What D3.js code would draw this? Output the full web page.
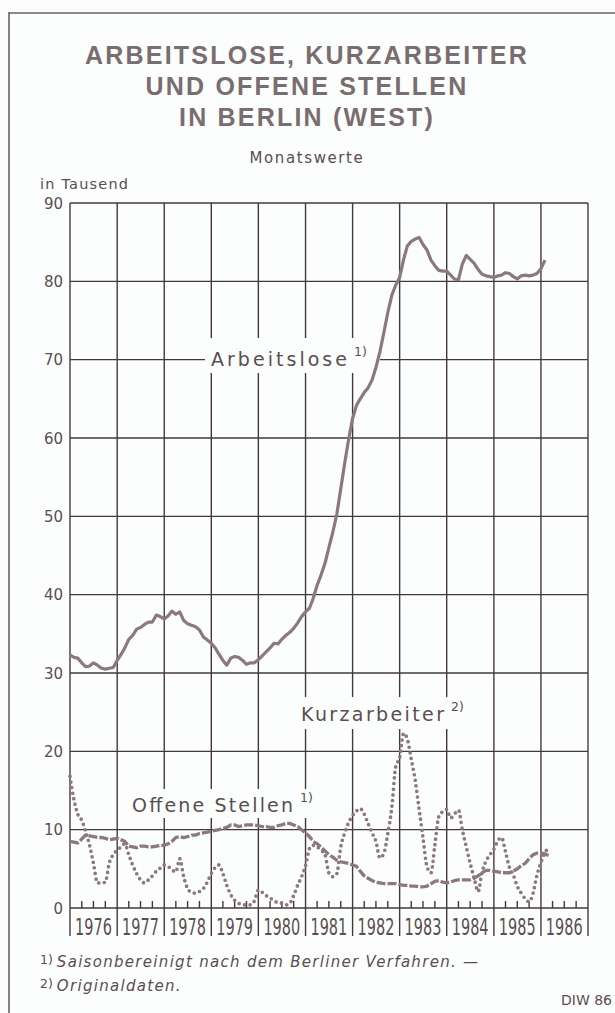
<!DOCTYPE html>
<html><head><meta charset="utf-8">
<script src="https://cdn.jsdelivr.net/npm/d3@7"></script>
<style>
html,body{margin:0;padding:0;background:#fcfefe;}
svg{display:block;}
</style></head>
<body>
<svg id="chart" width="615" height="1013"></svg>
<script>
// ---- DATA (monthly, starting January 1976, values in thousand) ----
const titleLines = ["ARBEITSLOSE, KURZARBEITER", "UND OFFENE STELLEN", "IN BERLIN (WEST)"];
const subtitle = "Monatswerte";
const unitLabel = "in Tausend";
const years = [1976,1977,1978,1979,1980,1981,1982,1983,1984,1985,1986];
const yTicks = [0,10,20,30,40,50,60,70,80,90];

const arbeitslose = [
32.3,32.0,31.9,31.3,30.8,30.9,31.3,31.0,30.6,30.5,30.6,30.7,
31.6,32.4,33.2,34.3,34.8,35.6,35.8,36.2,36.5,36.5,37.4,37.2,
36.9,37.3,37.9,37.5,37.8,36.7,36.3,36.1,35.9,35.5,34.6,34.2,
33.8,33.2,32.4,31.6,31.0,31.9,32.1,32.0,31.6,31.1,31.3,31.3,
31.7,32.2,32.7,33.2,33.8,33.7,34.3,34.8,35.2,35.7,36.4,37.2,
37.8,38.3,39.5,41.2,42.5,44.0,46.0,48.0,50.3,53.5,56.8,59.8,
62.5,64.2,65.0,65.8,66.4,67.4,69.0,71.0,73.5,76.0,78.2,79.5,
80.5,82.8,84.5,85.1,85.4,85.6,84.7,84.0,82.7,82.0,81.4,81.3,
81.3,80.8,80.3,80.2,82.2,83.3,82.8,82.3,81.5,80.9,80.7,80.6,
80.5,80.7,80.8,81.1,81.0,80.6,80.3,80.7,80.8,80.7,80.8,81.0,
81.6,82.7];

const kurzarbeiter = [
16.8,13.8,12.0,11.2,9.8,8.0,5.7,3.2,3.2,3.3,5.8,6.8,
7.4,7.8,8.2,6.8,5.5,4.4,3.6,3.2,3.6,4.1,4.7,5.1,
5.5,5.3,4.9,4.6,6.3,4.0,2.5,2.0,1.9,2.1,2.5,3.3,
4.4,5.2,5.5,4.4,2.9,1.7,1.0,0.6,0.4,0.4,0.4,0.9,
2.3,2.0,1.6,1.3,0.9,0.7,0.6,0.4,0.6,1.6,2.9,4.0,
5.4,7.6,8.0,7.8,7.4,6.8,4.5,4.0,4.4,7.8,9.6,10.9,
11.8,12.4,12.7,12.0,10.8,9.6,8.5,6.4,7.0,9.5,12.8,18.0,
19.2,22.3,21.6,19.0,16.4,12.6,9.0,5.3,4.5,8.0,11.7,12.3,
12.6,11.5,12.0,12.5,10.0,7.8,5.7,3.8,2.1,4.6,6.0,6.8,
7.5,8.6,9.0,7.2,5.2,4.2,2.8,1.9,1.2,0.8,1.9,4.2,
5.8,7.1,7.6];

const offeneStellen = [
8.5,8.4,8.3,8.8,9.3,9.2,9.1,9.0,9.0,8.9,8.7,8.8,
8.9,8.7,8.5,7.9,7.8,7.7,7.9,7.9,7.8,7.8,7.9,8.0,
8.0,8.2,8.5,9.0,9.1,9.0,9.1,9.3,9.3,9.5,9.6,9.7,
9.8,9.9,10.0,10.2,10.3,10.6,10.6,10.4,10.5,10.6,10.6,10.6,
10.5,10.4,10.4,10.3,10.3,10.5,10.6,10.8,10.8,10.6,10.4,10.0,
9.6,9.1,8.5,8.2,7.8,7.3,6.8,6.5,6.1,5.9,5.8,5.7,
5.5,5.3,4.7,4.1,3.8,3.5,3.3,3.2,3.1,3.1,3.1,3.1,
3.0,2.9,2.9,2.8,2.8,2.7,2.7,2.8,3.1,3.4,3.5,3.3,
3.2,3.3,3.5,3.6,3.6,3.6,3.6,3.8,4.1,4.5,4.8,4.8,
4.7,4.6,4.5,4.5,4.5,4.7,5.0,5.4,5.7,6.3,6.8,7.0,
7.0,6.9,6.7];

const seriesLabels = {
  arbeitslose: ["Arbeitslose", "1)"],
  kurzarbeiter: ["Kurzarbeiter", "2)"],
  offene: ["Offene Stellen", "1)"]
};
const footnotes = [["1)", "Saisonbereinigt nach dem Berliner Verfahren. —"], ["2)", "Originaldaten."]];
const sourceLabel = "DIW 86";

// ---- DRAWING ----
const svg = d3.select("#chart");
const gridColor = "#46383a", lineColor = "#8b797c", textColor = "#5b4d50", titleColor = "#7a6d70";
const font = "'DejaVu Sans', sans-serif";

const x = d3.scaleTime().domain([new Date(1976,0,1), new Date(1987,0,1)]).range([70, 588]);
const y = d3.scaleLinear().domain([0, 90]).range([908, 203]);
const monthDate = i => d3.timeMonth.offset(new Date(1976,0,1), i);

// page frame
svg.append("line").attr("x1", 9).attr("x2", 9).attr("y1", 12).attr("y2", 1013)
  .attr("stroke", "#6e6062").attr("stroke-width", 1.6);
svg.append("line").attr("x1", 9).attr("x2", 615).attr("y1", 13).attr("y2", 13)
  .attr("stroke", "#6e6062").attr("stroke-width", 1.4);

// title
svg.append("g").selectAll("text").data(titleLines).join("text")
  .attr("x", 307).attr("y", (d, i) => 64 + i * 31)
  .attr("text-anchor", "middle")
  .attr("font-family", "'Liberation Sans', Arial, sans-serif")
  .attr("font-weight", "bold").attr("font-size", 25)
  .attr("letter-spacing", 2.2)
  .attr("fill", titleColor).text(d => d);

svg.append("text").attr("x", 307).attr("y", 163).attr("text-anchor", "middle")
  .attr("font-family", font).attr("font-size", 15).attr("letter-spacing", 1.6)
  .attr("fill", textColor).text(subtitle);

svg.append("text").attr("x", 40).attr("y", 189)
  .attr("font-family", font).attr("font-size", 14.5).attr("letter-spacing", 1.2)
  .attr("fill", textColor).text(unitLabel);

// grid
const grid = svg.append("g").attr("stroke", gridColor).attr("stroke-width", 1.4);
grid.selectAll("line.h").data(yTicks).join("line").attr("class", "h")
  .attr("x1", x.range()[0]).attr("x2", x.range()[1])
  .attr("y1", d => y(d)).attr("y2", d => y(d));
const yearBounds = years.concat([years[years.length - 1] + 1]);
grid.selectAll("line.v").data(yearBounds).join("line").attr("class", "v")
  .attr("x1", d => x(new Date(d,0,1))).attr("x2", d => x(new Date(d,0,1)))
  .attr("y1", y(90)).attr("y2", 936);
// quarter ticks
const quarters = [];
years.forEach(yr => [3,6,9].forEach(m => quarters.push(new Date(yr, m, 1))));
grid.selectAll("line.q").data(quarters).join("line").attr("class", "q")
  .attr("x1", d => x(d)).attr("x2", d => x(d))
  .attr("y1", y(0)).attr("y2", y(0) - 7);

// y labels
svg.append("g").selectAll("text").data(yTicks).join("text")
  .attr("x", 63).attr("y", d => y(d) + 5.5).attr("text-anchor", "end")
  .attr("font-family", font).attr("font-size", 15).attr("fill", textColor)
  .text(d => d);

// year labels (tall, condensed)
svg.append("g").selectAll("text").data(years).join("text")
  .attr("transform", d => `translate(${x(new Date(d,6,1))},935) scale(0.7,1)`)
  .attr("text-anchor", "middle")
  .attr("font-family", "'DejaVu Sans Condensed', 'DejaVu Sans', sans-serif")
  .attr("font-size", 23)
  .attr("fill", textColor).text(d => d);

// label backgrounds (break grid lines)
const bg = "#fcfefe";
svg.append("rect").attr("x", 205).attr("y", 338).attr("width", 175).attr("height", 35).attr("fill", bg);
svg.append("rect").attr("x", 296).attr("y", 697).attr("width", 178).attr("height", 32).attr("fill", bg);
svg.append("rect").attr("x", 127).attr("y", 789).attr("width", 196).attr("height", 29).attr("fill", bg);

// series lines
const line = d3.line().x((d, i) => x(monthDate(i))).y(d => y(d));
svg.append("path").datum(offeneStellen).attr("d", line)
  .attr("fill", "none").attr("stroke", lineColor).attr("stroke-width", 3.3)
  .attr("stroke-dasharray", "9,2");
svg.append("path").datum(kurzarbeiter).attr("d", line.curve(d3.curveMonotoneX))
  .attr("fill", "none").attr("stroke", lineColor).attr("stroke-width", 3.7)
  .attr("stroke-linecap", "round").attr("stroke-dasharray", "0,5.6");
svg.append("path").datum(arbeitslose).attr("d", d3.line().x((d, i) => x(monthDate(i))).y(d => y(d)))
  .attr("fill", "none").attr("stroke", lineColor).attr("stroke-width", 3.2)
  .attr("stroke-linejoin", "round");

// series labels
function seriesLabel(lbl, xPos, base, len) {
  svg.append("text").attr("x", xPos).attr("y", base)
    .attr("font-family", font).attr("font-size", 19)
    .attr("textLength", len).attr("lengthAdjust", "spacing")
    .attr("fill", textColor).text(lbl[0]);
  svg.append("text").attr("x", xPos + len + 7).attr("y", base - 10)
    .attr("font-family", font).attr("font-size", 12.5)
    .attr("fill", textColor).text(lbl[1]);
}
seriesLabel(seriesLabels.arbeitslose, 211, 366, 136);
seriesLabel(seriesLabels.kurzarbeiter, 301, 721, 143);
seriesLabel(seriesLabels.offene, 132, 812, 161);

// footnotes
footnotes.forEach((f, i) => {
  const t = svg.append("text").attr("x", 40).attr("y", 967 + i * 24)
    .attr("font-family", font).attr("fill", textColor);
  t.append("tspan").attr("font-size", 12.5).attr("dy", -3).text(f[0]);
  t.append("tspan").attr("dx", 4).attr("dy", 3).attr("font-size", 15).attr("font-style", "italic")
    .attr("letter-spacing", 1.3).text(f[1]);
});
svg.append("text").attr("x", 612).attr("y", 1005).attr("text-anchor", "end")
  .attr("font-family", font).attr("font-size", 14).attr("fill", textColor).text(sourceLabel);
</script>
</body></html>
